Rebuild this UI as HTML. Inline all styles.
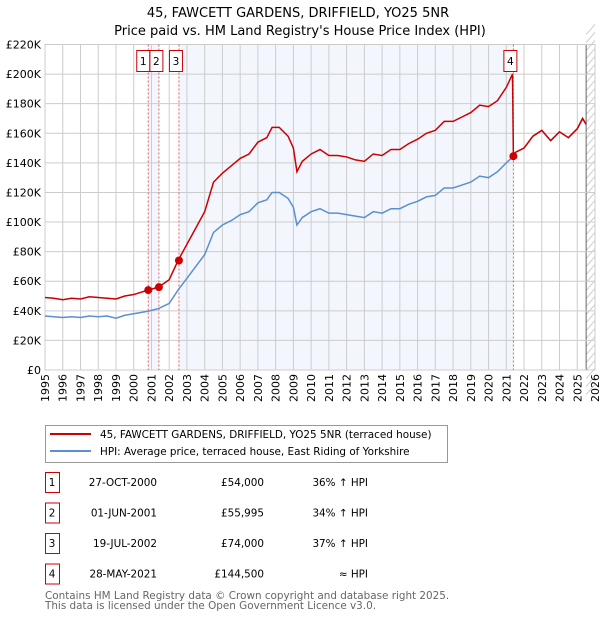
<!DOCTYPE html>
<html><head><meta charset="utf-8"><style>
body{margin:0;width:600px;height:620px;background:#fff;font-family:"DejaVu Sans","Liberation Sans",sans-serif;overflow:hidden}
svg text{font-family:"DejaVu Sans","Liberation Sans",sans-serif}
</style></head><body>
<svg id="c" width="600" height="620" xmlns="http://www.w3.org/2000/svg">
<text x="298" y="17" text-anchor="middle" font-size="13">45, FAWCETT GARDENS, DRIFFIELD, YO25 5NR</text>
<text x="300" y="35" text-anchor="middle" font-size="13">Price paid vs. HM Land Registry's House Price Index (HPI)</text>
<g id="plot"></g>
<g>
<rect x="45.5" y="425.5" width="402" height="37" fill="#fff" stroke="#999"/>
<line x1="50" y1="434" x2="91" y2="434" stroke="#cc0000" stroke-width="2"/>
<text x="100" y="438" font-size="10.4">45, FAWCETT GARDENS, DRIFFIELD, YO25 5NR (terraced house)</text>
<line x1="50" y1="451" x2="91" y2="451" stroke="#5b8fd0" stroke-width="2"/>
<text x="100" y="455" font-size="10.4">HPI: Average price, terraced house, East Riding of Yorkshire</text>
</g>
<g id="tbl" font-size="10.4"></g>
<text x="45" y="599" font-size="10.4" fill="#666">Contains HM Land Registry data © Crown copyright and database right 2025.</text>
<text x="45" y="609" font-size="10.4" fill="#666">This data is licensed under the Open Government Licence v3.0.</text>
</svg>
<script>
const hpiYears=[1995,1995.5,1996,1996.5,1997,1997.5,1998,1998.5,1999,1999.5,2000,2000.8,2001.4,2002,2002.5,2003,2003.5,2004,2004.5,2005,2005.5,2006,2006.5,2007,2007.5,2007.8,2008.2,2008.7,2009,2009.2,2009.5,2010,2010.5,2011,2011.5,2012,2012.5,2013,2013.5,2014,2014.5,2015,2015.5,2016,2016.5,2017,2017.5,2018,2018.5,2019,2019.5,2020,2020.5,2021,2021.4,2021.5,2022,2022.5,2023,2023.5,2024,2024.5,2025,2025.3,2025.5];
const hpiValues=[36.5,36,35.5,36,35.5,36.5,36,36.5,35,37,38,39.7,41.5,45,54,62,70,78,93,98,101,105,107,113,115,120,120,116,110,98,103,107,109,106,106,105,104,103,107,106,109,109,112,114,117,118,123,123,125,127,131,130,134,140,144.5,147,150,158,162,155,161,157,163,170,166];
const redYears=[1995,1995.5,1996,1996.5,1997,1997.5,1998,1998.5,1999,1999.5,2000,2000.8,2001.4,2002,2002.5,2003,2003.5,2004,2004.5,2005,2005.5,2006,2006.5,2007,2007.5,2007.8,2008.2,2008.7,2009,2009.2,2009.5,2010,2010.5,2011,2011.5,2012,2012.5,2013,2013.5,2014,2014.5,2015,2015.5,2016,2016.5,2017,2017.5,2018,2018.5,2019,2019.5,2020,2020.5,2021,2021.35,2021.4,2021.5,2022,2022.5,2023,2023.5,2024,2024.5,2025,2025.3,2025.5];
const redValues=[49,48.5,47.5,48.5,48,49.5,49,48.5,48,50,51,54,56,61,74,85,96,107,127,133,138,143,146,154,157,164,164,158,150,134,141,146,149,145,145,144,142,141,146,145,149,149,153,156,160,162,168,168,171,174,179,178,182,191,200,144.5,147,150,158,162,155,161,157,163,170,166];
const saleYears=[2000.82,2001.42,2002.55,2021.4];
const salePrices=[54,55.995,74,144.5];
const saleLabels=["1","2","3","4"];
const saleDates=["27-OCT-2000","01-JUN-2001","19-JUL-2002","28-MAY-2021"];
const salePriceText=["£54,000","£55,995","£74,000","£144,500"];
const saleHpiText=["36% ↑ HPI","34% ↑ HPI","37% ↑ HPI","≈ HPI"];
const yTicks=[0,20,40,60,80,100,120,140,160,180,200,220];
const xTicks=[1995,1996,1997,1998,1999,2000,2001,2002,2003,2004,2005,2006,2007,2008,2009,2010,2011,2012,2013,2014,2015,2016,2017,2018,2019,2020,2021,2022,2023,2024,2025,2026];

const L=45,R=595,T=44.5,B=370;
const X=y=>L+(y-1995)/(2026-1995)*(R-L);
const Y=v=>B-v/220*(B-T);
const NS="http://www.w3.org/2000/svg";
const g=document.getElementById('plot');
function mk(t,a,p){const e=document.createElementNS(NS,t);for(const k in a)e.setAttribute(k,a[k]);(p||g).appendChild(e);return e;}

let s1=mk('rect',{x:X(saleYears[0]),y:T,width:X(saleYears[1])-X(saleYears[0]),height:B-T,fill:'#eef3fc',opacity:0.7});


let s2=mk('rect',{x:X(saleYears[2]),y:T,width:X(saleYears[3])-X(saleYears[2]),height:B-T,fill:'#eef3fc',opacity:0.7});


const hx=X(2025.5);
let hat=mk('g',{});


for(let yy=T-20;yy<B+20;yy+=8){mk('line',{x1:hx,y1:yy+10,x2:R,y2:yy,stroke:'#bbb','stroke-width':0.7},hat);}
mk('line',{x1:hx,y1:T,x2:hx,y2:B,stroke:'#666','stroke-width':1},hat);
yTicks.forEach(v=>{
 let l=mk('line',{x1:L,x2:R,y1:Y(v),y2:Y(v),stroke:'#ccc','stroke-width':1});
 
 
 let t=mk('text',{x:L-4,y:Y(v)+4,'text-anchor':'end','font-size':11});
 t.textContent=v===0?'£0':'£'+v+'K';
 
 
});
xTicks.forEach(yr=>{
 let l=mk('line',{x1:X(yr),x2:X(yr),y1:T,y2:B,stroke:'#ccc','stroke-width':1});
 
 
 let t=mk('text',{x:0,y:0,'text-anchor':'end','font-size':11,transform:`translate(${X(yr)+4},${B+4}) rotate(-90)`});
 t.textContent=yr;
 
 
});
mk('rect',{x:L,y:T,width:R-L,height:B-T,fill:'none',stroke:'#ccc'});
saleYears.forEach((yr,i)=>{
 let l=mk('line',{x1:X(yr),x2:X(yr),y1:T,y2:B,stroke:'#e06060','stroke-width':1,'stroke-dasharray':'2,2'});
 
 
});
let hp=mk('polyline',{points:hpiYears.map((y,i)=>X(y)+','+Y(hpiValues[i])).join(' '),fill:'none',stroke:'#5b8fd0','stroke-width':1.5});


let rp=mk('polyline',{points:redYears.map((y,i)=>X(y)+','+Y(redValues[i])).join(' '),fill:'none',stroke:'#cc0000','stroke-width':1.5});


const boxOff=[-5,-2.5,-3,-3];
saleYears.forEach((yr,i)=>{
 let c=mk('circle',{cx:X(yr),cy:Y(salePrices[i]),r:4,fill:'#cc0000'});
 
 
 const bx=X(yr)+boxOff[i];
 let b=mk('rect',{x:bx-6.5,y:50.5,width:13,height:21,fill:'#fff',stroke:'#cc0000'});
 
 
 let t=mk('text',{x:bx,y:65,'text-anchor':'middle','font-size':10.5});
 t.textContent=saleLabels[i];
 
 
});
const tb=document.getElementById('tbl');
saleLabels.forEach((lab,i)=>{
 const y=482+i*30.5;
 let b=mk('rect',{x:45.5,y:y-9.5,width:14,height:20,fill:'#fff',stroke:'#cc0000'},tb);
 
 
 const cells=[[52,lab,'middle'],[157,saleDates[i],'end'],[264,salePriceText[i],'end'],[368,saleHpiText[i],'end']];
 cells.forEach(([x,s,a],j)=>{
  let t=mk('text',{x:x,y:y+4,'text-anchor':a,'font-size':10.4},tb);
  t.textContent=s;
  
  
 });
});
</script>
</body></html>
